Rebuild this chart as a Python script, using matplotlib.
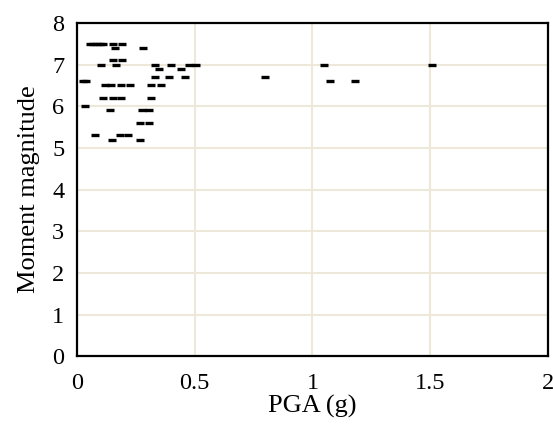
import matplotlib.pyplot as plt

plt.rcParams['font.family'] = ['Liberation Serif', 'DejaVu Serif']

# PGA (g) and moment magnitude
pga = [0.055, 0.07, 0.085, 0.10, 0.11, 0.155, 0.19,
       0.16, 0.28,
       0.155, 0.19,
       0.103, 0.167, 0.33, 0.40, 0.475, 0.507, 1.047, 1.506,
       0.35, 0.44,
       0.33, 0.39, 0.46, 0.80,
       0.028, 0.04, 1.075, 1.18,
       0.12, 0.145, 0.186, 0.226, 0.316, 0.356,
       0.11, 0.155, 0.186, 0.316,
       0.033,
       0.14, 0.277, 0.305,
       0.27, 0.305,
       0.078, 0.183, 0.219,
       0.15, 0.268]
mag = [7.5, 7.5, 7.5, 7.5, 7.5, 7.5, 7.5,
       7.4, 7.4,
       7.1, 7.1,
       7.0, 7.0, 7.0, 7.0, 7.0, 7.0, 7.0, 7.0,
       6.9, 6.9,
       6.7, 6.7, 6.7, 6.7,
       6.6, 6.6, 6.6, 6.6,
       6.5, 6.5, 6.5, 6.5, 6.5, 6.5,
       6.2, 6.2, 6.2, 6.2,
       6.0,
       5.9, 5.9, 5.9,
       5.6, 5.6,
       5.3, 5.3, 5.3,
       5.2, 5.2]

xticks = [0, 0.5, 1, 1.5, 2]
xticklabels = ['0', '0.5', '1', '1.5', '2']
yticks = list(range(0, 9))

fig = plt.figure(figsize=(5.53, 4.24), dpi=100)
ax = fig.add_axes([0.139, 0.160, 0.852, 0.786])

ax.plot(pga, mag, linestyle='none', marker='_', color='black',
        markersize=5.5, markeredgewidth=2.4, zorder=3)

ax.set_xlim(0, 2)
ax.set_ylim(0, 8)
ax.set_xticks(xticks)
ax.set_xticklabels(xticklabels)
ax.set_yticks(yticks)
ax.grid(True, color='#EDE8DA', linewidth=1.5, zorder=0)
ax.set_axisbelow(True)
ax.tick_params(axis='x', length=0, labelsize=17.5, pad=12)
ax.tick_params(axis='y', length=0, labelsize=17.5, pad=9)
for s in ax.spines.values():
    s.set_linewidth(1.6)
    s.set_color('black')

ax.set_xlabel('PGA (g)', fontsize=19, labelpad=1)
ax.set_ylabel('Moment magnitude', fontsize=19, labelpad=9)

fig.savefig('out.png', dpi=100)
